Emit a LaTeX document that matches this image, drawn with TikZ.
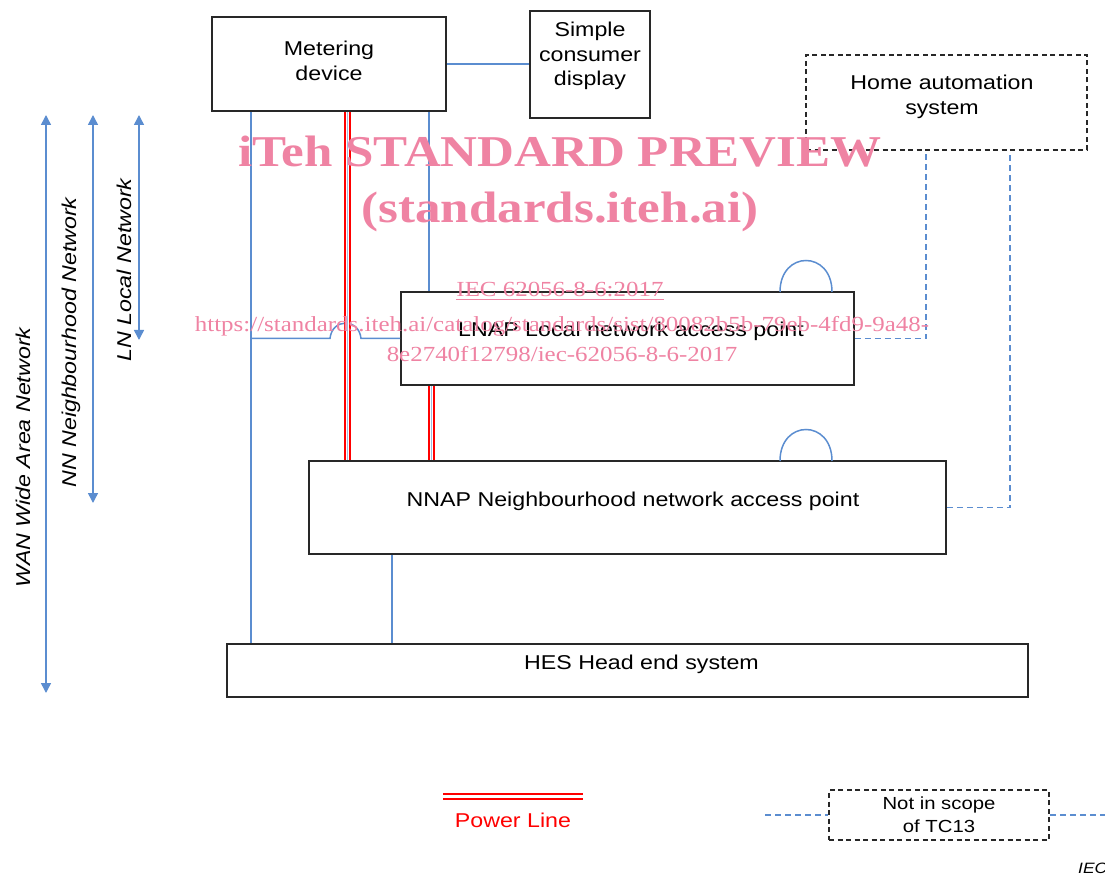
\documentclass[tikz,border=0pt]{standalone}
\usepackage{fontspec}
\setmainfont{Liberation Sans}[FakeStretch=1.16]
\newfontfamily\wmfont{Liberation Serif}[FakeStretch=1.16]
\usetikzlibrary{arrows.meta}
\definecolor{lnblue}{RGB}{91,141,208}
\definecolor{boxgray}{RGB}{40,40,40}
\definecolor{wmpink}{RGB}{239,131,163}
\definecolor{pwred}{RGB}{255,0,0}
\begin{document}
\begin{tikzpicture}[x=1pt,y=-1pt,
  box/.style={draw=boxgray,line width=1.6pt,rectangle,inner sep=0pt,fill=white},
  dbox/.style={box,dash pattern=on 5pt off 3.5pt},
  txt/.style={font=\fontsize{20}{24.5}\selectfont,align=center,inner sep=0pt},
  link/.style={draw=lnblue,line width=1.5pt},
  dlink/.style={link,line width=1.7pt,dash pattern=on 6pt off 4pt},
  power/.style={draw=pwred,line width=2pt,double=white,double distance=3pt},
  netarrow/.style={link,{Triangle[width=10pt,length=10pt]}-{Triangle[width=10pt,length=10pt]}},
  nettxt/.style={font=\fontsize{20}{24}\itshape,rotate=90,inner sep=0pt},
  wm/.style={text=wmpink,inner sep=0pt,align=center}
]
\useasboundingbox (0,0) rectangle (1105,874);

% helper x positions
\coordinate (xw) at (251,0);
\coordinate (xl) at (429,0);
\coordinate (xp1) at (347.5,0);
\coordinate (xp2) at (431.5,0);
\coordinate (xh) at (392,0);
\coordinate (xd1) at (926,0);
\coordinate (xd2) at (1010,0);

% boxes
\node[box,minimum width=234pt,minimum height=94pt] (meter) at (329,64) {};
\node[txt] (metert) at (329,61) {Metering\\device};
\node[box,minimum width=120pt,minimum height=107pt] (disp) at (590,64.5) {};
\node[txt] (dispt) at (590,56) {Simple\\consumer\\display};
\node[dbox,minimum width=281pt,minimum height=95pt] (home) at (946.5,102.5) {};
\node[txt] (homet) at (942,97) {Home automation\\system};
\node[box,minimum width=453pt,minimum height=93pt] (lnap) at (627.5,338.5) {};
\node[txt] (lnapt) at (631,331) {LNAP Local network access point};
\node[box,minimum width=637pt,minimum height=93pt] (nnap) at (627.5,507.5) {};
\node[txt] (nnapt) at (633,501) {NNAP Neighbourhood network access point};
\node[box,minimum width=801pt,minimum height=53pt] (hes) at (627.5,670.5) {};
\node[txt] (hest) at (641.5,664) {HES Head end system};

% connectors
\draw[link] (meter.east) -- (meter.east -| disp.west);
\draw[link] (meter.south -| xw) -- (hes.north -| xw);
\draw[link] (meter.south -| xl) -- (lnap.north -| xl);
\draw[link] (nnap.south -| xh) -- (hes.north -| xh);
\draw[link] (lnap.west -| xw) -- (330,338.5) .. controls (332,318) and (359,318) .. (361,338.5) -- (lnap.west);
\draw[power] (meter.south -| xp1) -- (nnap.north -| xp1);
\draw[link,line width=0.8pt,draw=lnblue!60] (meter.south -| xp1) -- (nnap.north -| xp1);
\draw[power] (lnap.south -| xp2) -- (nnap.north -| xp2);
\draw[link,line width=0.8pt,draw=lnblue!60] (lnap.south -| xp2) -- (nnap.north -| xp2);
\draw[dlink] (lnap.east) -- (lnap.east -| xd1) -- (home.south -| xd1);
\draw[dlink] (nnap.east) -- (nnap.east -| xd2) -- (home.south -| xd2);

% antennas
\draw[link] (780,292) .. controls (780,250) and (832,250) .. (832,292);
\draw[link] (780,461) .. controls (780,419) and (832,419) .. (832,461);

% network extents
\coordinate (wanT) at (46,115);
\coordinate (wanB) at (46,693);
\coordinate (nnT) at (93,115);
\coordinate (nnB) at (93,503);
\coordinate (lnT) at (139,115);
\coordinate (lnB) at (139,340);
\draw[netarrow] (wanT) -- (wanB);
\draw[netarrow] (nnT) -- (nnB);
\draw[netarrow] (lnT) -- (lnB);
\node[nettxt] (want) at (23,457.5) {WAN Wide Area Network};
\node[nettxt] (nnt) at (71,342.5) {NN Neighbourhood Network};
\node[nettxt] (lnt) at (124,270) {LN Local Network};

% legend
\coordinate (plA) at (443,796);
\coordinate (plB) at (583,796);
\draw[power] (plA) -- (plB);
\node[txt,text=pwred] (plt) at (513,820) {Power Line};
\node[dbox,minimum width=220pt,minimum height=50pt] (nis) at (939,815) {};
\node[txt,font=\fontsize{17.5}{23}\selectfont] (nist) at (939,815) {Not in scope\\of TC13};
\coordinate (nisL) at (765,0);
\coordinate (nisR) at (1105,0);
\draw[dlink] (nis.west -| nisL) -- (nis.west);
\draw[dlink] (nis.east) -- (nis.east -| nisR);
\node[font=\fontsize{15}{18}\itshape,anchor=base west,inner sep=0pt] (iec) at (1078,873) {IEC};

% watermark
\node[wm,font=\wmfont\bfseries\fontsize{44}{48}\selectfont] (wm1) at (560,152) {iTeh STANDARD PREVIEW};
\node[wm,font=\wmfont\bfseries\fontsize{44}{48}\selectfont] (wm2) at (560,212) {(standards.iteh.ai)};
\node[wm,font=\wmfont\fontsize{21.5}{30}\selectfont] (wm3) at (560,291) {\underline{IEC 62056-8-6:2017}};
\node[wm,font=\wmfont\fontsize{21.5}{30}\selectfont] (wm4) at (562,339) {https://standards.iteh.ai/catalog/standards/sist/80082b5b-79eb-4fd9-9a48-\\8e2740f12798/iec-62056-8-6-2017};
\end{tikzpicture}
\end{document}
